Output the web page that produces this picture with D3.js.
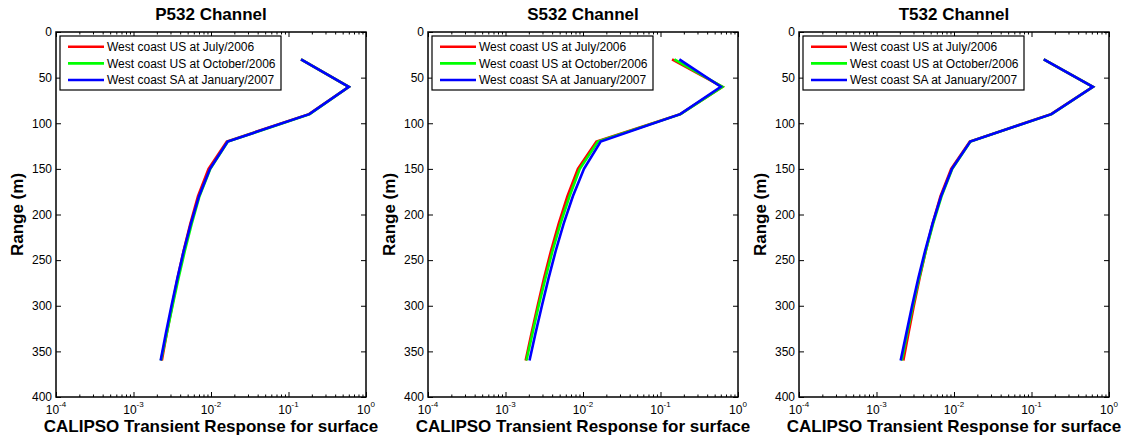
<!DOCTYPE html>
<html>
<head>
<meta charset="utf-8">
<script src="https://cdn.jsdelivr.net/npm/d3@7/dist/d3.min.js"></script>
<style>
  html, body { margin: 0; padding: 0; background: #fff; }
  svg { display: block; font-family: "Liberation Sans", Arial, sans-serif; }
</style>
</head>
<body>
<svg id="chart" width="1131" height="444"></svg>
<script>
// ---------------- data ----------------
const ranges = [30, 60, 90, 120, 150, 180, 210, 240, 270, 300, 330, 360];

const seriesNames = ["West coast US at July/2006", "West coast US at October/2006", "West coast SA at January/2007"];
const seriesColors = ["#ff0000", "#00ff00", "#0000ff"];
const panelTitles = ["P532 Channel", "S532 Channel", "T532 Channel"];

const p532July    = [0.145, 0.60, 0.184, 0.0160, 0.0093, 0.0068, 0.00542, 0.00443, 0.00370, 0.00315, 0.00269, 0.00232];
const p532October = [0.145, 0.60, 0.188, 0.0165, 0.0098, 0.0071, 0.00564, 0.00459, 0.00380, 0.00319, 0.00269, 0.00226];
const p532January = [0.145, 0.60, 0.186, 0.0164, 0.0097, 0.0070, 0.00549, 0.00444, 0.00368, 0.00309, 0.00262, 0.00224];

const s532July    = [0.141, 0.63, 0.180, 0.0149, 0.0086, 0.0063, 0.00486, 0.00386, 0.00314, 0.00260, 0.00217, 0.00182];
const s532October = [0.151, 0.63, 0.182, 0.0156, 0.0091, 0.0067, 0.00512, 0.00404, 0.00327, 0.00268, 0.00223, 0.00186];
const s532January = [0.175, 0.60, 0.180, 0.0169, 0.0103, 0.0074, 0.00563, 0.00444, 0.00359, 0.00295, 0.00244, 0.00204];

const t532July    = [0.144, 0.62, 0.179, 0.0160, 0.0092, 0.0067, 0.00530, 0.00432, 0.00359, 0.00303, 0.00259, 0.00222];
const t532October = [0.144, 0.62, 0.182, 0.0163, 0.0095, 0.0069, 0.00538, 0.00432, 0.00354, 0.00295, 0.00249, 0.00212];
const t532January = [0.144, 0.62, 0.181, 0.0162, 0.0094, 0.0068, 0.00528, 0.00423, 0.00346, 0.00288, 0.00243, 0.00205];

const xMajorTicks = [1e-4, 1e-3, 1e-2, 1e-1, 1];
const xTickExponents = ["-4", "-3", "-2", "-1", "0"];
const yTicks = [0, 50, 100, 150, 200, 250, 300, 350, 400];
const xDomain = [1e-4, 1];
const yDomain = [0, 400];
const xLabel = "CALIPSO Transient Response for surface";
const yLabel = "Range (m)";

const panelsData = [
  [p532July, p532October, p532January],
  [s532July, s532October, s532January],
  [t532July, t532October, t532January]
];

// ---------------- layout ----------------
const plotLefts = [56, 428, 799];
const plotW = 310, plotTop = 32, plotBottom = 397;

const svg = d3.select("#chart");

// minor ticks
const xMinorTicks = [];
for (let e = -4; e < 0; e++) for (let m = 2; m <= 9; m++) xMinorTicks.push(m * Math.pow(10, e));

panelsData.forEach((series, pi) => {
  const left = plotLefts[pi];
  const x = d3.scaleLog().domain(xDomain).range([left, left + plotW]);
  const y = d3.scaleLinear().domain(yDomain).range([plotTop, plotBottom]);
  const g = svg.append("g");

  // title
  g.append("text")
    .attr("x", left + plotW / 2).attr("y", 20)
    .attr("text-anchor", "middle")
    .style("font-size", "17px").style("font-weight", "bold")
    .text(panelTitles[pi]);

  // axes - bottom major
  g.append("g").attr("transform", `translate(0,${plotBottom})`)
    .call(d3.axisBottom(x).tickValues(xMajorTicks).tickSize(-5).tickFormat(""));
  g.append("g").attr("transform", `translate(0,${plotBottom})`)
    .call(d3.axisBottom(x).tickValues(xMinorTicks).tickSize(-2.5).tickFormat(""));
  g.append("g").attr("transform", `translate(0,${plotTop})`)
    .call(d3.axisTop(x).tickValues(xMajorTicks).tickSize(-5).tickFormat(""));
  g.append("g").attr("transform", `translate(0,${plotTop})`)
    .call(d3.axisTop(x).tickValues(xMinorTicks).tickSize(-2.5).tickFormat(""));
  const leftAx = g.append("g").attr("transform", `translate(${left},0)`)
    .call(d3.axisLeft(y).tickValues(yTicks).tickSize(-5).tickPadding(4).tickFormat(d3.format("d")));
  g.append("g").attr("transform", `translate(${left + plotW},0)`)
    .call(d3.axisRight(y).tickValues(yTicks).tickSize(-5).tickFormat(""));

  g.selectAll(".domain").remove();
  g.selectAll(".tick line").attr("stroke", "#000").attr("stroke-width", 1);

  leftAx.selectAll(".tick text")
    .style("font-size", "12px").attr("fill", "#000")
    .attr("font-family", "Liberation Sans, Arial, sans-serif");

  // x tick labels with superscripts
  xMajorTicks.forEach((v, i) => {
    const t = g.append("text")
      .attr("x", x(v)).attr("y", 414)
      .attr("text-anchor", "middle")
      .style("font-size", "12px");
    t.append("tspan").text("10");
    t.append("tspan").attr("dy", -7).style("font-size", "8px").text(xTickExponents[i]);
  });

  // frame
  g.append("rect")
    .attr("x", left).attr("y", plotTop)
    .attr("width", plotW).attr("height", plotBottom - plotTop)
    .attr("fill", "none").attr("stroke", "#000").attr("stroke-width", 1.5);

  // lines
  const line = d3.line().x(d => x(d[0])).y(d => y(d[1]));
  series.forEach((vals, si) => {
    g.append("path")
      .datum(vals.map((v, k) => [v, ranges[k]]))
      .attr("d", line)
      .attr("fill", "none")
      .attr("stroke", seriesColors[si])
      .attr("stroke-width", 2.6)
      .attr("stroke-linejoin", "miter");
  });

  // axis labels
  g.append("text")
    .attr("x", left + plotW / 2).attr("y", 432)
    .attr("text-anchor", "middle")
    .style("font-size", "17px").style("font-weight", "bold")
    .text(xLabel);
  g.append("text")
    .attr("transform", `translate(${left - 33},${(plotTop + plotBottom) / 2}) rotate(-90)`)
    .attr("text-anchor", "middle")
    .style("font-size", "17px").style("font-weight", "bold")
    .text(yLabel);

  // legend
  const lg = g.append("g").attr("transform", `translate(${left + 4},36)`);
  lg.append("rect").attr("width", 221).attr("height", 54)
    .attr("fill", "#fff").attr("stroke", "#000").attr("stroke-width", 1.2);
  seriesNames.forEach((name, si) => {
    const yy = 10.7 + si * 16.67;
    lg.append("line").attr("x1", 8).attr("x2", 44).attr("y1", yy).attr("y2", yy)
      .attr("stroke", seriesColors[si]).attr("stroke-width", 2.6);
    lg.append("text").attr("x", 47).attr("y", yy + 4.2)
      .style("font-size", "12px").text(name);
  });
});
</script>
</body>
</html>
